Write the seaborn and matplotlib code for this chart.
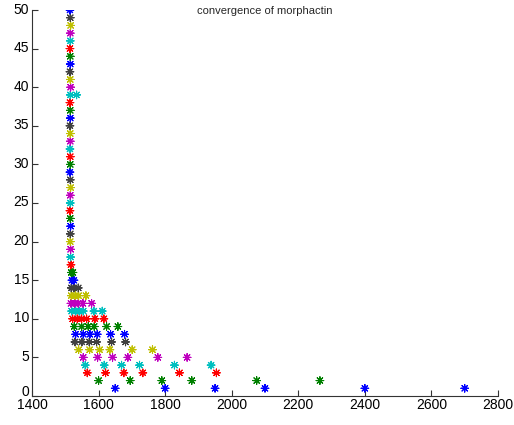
import matplotlib
matplotlib.use("Agg")
import matplotlib.pyplot as plt
import matplotlib.transforms as mtrans
import seaborn as sns
import pandas as pd

# iteration level (y) and the x values found at that level
levels = list(range(1, 51))
x_by_level = [
    [1650, 1800, 1950, 2100, 2400, 2700],   # 1
    [1600, 1695, 1790, 1880, 2075, 2265],   # 2
    [1566, 1621, 1676, 1733, 1843, 1954],   # 3
    [1560, 1617, 1669, 1723, 1828, 1938],   # 4
    [1554, 1597, 1642, 1688, 1778, 1866],   # 5
    [1540, 1573, 1603, 1634, 1701, 1762],   # 6
    [1529, 1550, 1572, 1594, 1639, 1681],   # 7
    [1531, 1554, 1574, 1596, 1636, 1678],   # 8
    [1527, 1549, 1569, 1587, 1624, 1658],   # 9
    [1522, 1536, 1549, 1564, 1589, 1616],   # 10
    [1519, 1531, 1542, 1554, 1586, 1611],   # 11
    [1517, 1528, 1539, 1553, 1579],         # 12
    [1518, 1530, 1540, 1562],               # 13
    [1518, 1526, 1539],                     # 14
    [1520, 1526],                           # 15
    [1518, 1523],                           # 16
    [1517],                                 # 17
    [1516], [1516], [1515], [1515], [1516], [1515], [1514],   # 18-24
    [1515], [1515], [1516], [1515], [1514], [1515], [1515],   # 25-31
    [1514], [1515], [1515], [1514], [1515], [1515], [1514],   # 32-38
    [1515, 1534],                                             # 39
    [1516], [1515], [1514], [1515], [1515], [1514], [1515],   # 40-46
    [1515], [1516], [1515], [1514],                           # 47-50
]
matlab_colors = [(0, 0, 1), (0, 0.5, 0), (1, 0, 0), (0, 0.75, 0.75),
                 (0.75, 0, 0.75), (0.75, 0.75, 0), (0.25, 0.25, 0.25)]
x_ticks = [1400, 1600, 1800, 2000, 2200, 2400, 2600, 2800]
y_ticks = [0, 5, 10, 15, 20, 25, 30, 35, 40, 45, 50]
title = "convergence of morphactin"

rows = []
for lv, xs in zip(levels, x_by_level):
    for xv in xs:
        rows.append({"x": xv, "y": lv, "c": (lv - 1) % 7})
df = pd.DataFrame(rows)

sns.set_style("ticks")
plt.rcParams["font.family"] = ["Liberation Sans", "DejaVu Sans"]

fig = plt.figure(figsize=(5.14, 4.25), dpi=100)
ax = fig.add_axes([32 / 514, 1 - 396 / 425, 466 / 514, 386 / 425])

sns.scatterplot(data=df, x="x", y="y", hue="c", palette=matlab_colors,
                marker=(8, 2, 0), s=30, linewidth=0.8, legend=False, ax=ax)

ax.set_xlim(1400, 2800)
ax.set_ylim(0, 50)
ax.set_xticks(x_ticks)
ax.set_yticks(y_ticks)
ax.set_xlabel("")
ax.set_ylabel("")
ax.tick_params(direction="in", length=4, width=0.8, labelsize=10,
               colors="#333333", labelcolor="black")
ax.tick_params(axis="x", pad=1.5)
ax.tick_params(axis="y", pad=2)
ylabels = ax.get_yticklabels()
for i, lab in enumerate(ylabels):
    dy = 5.5 if i == 0 else 2
    shift = mtrans.ScaledTranslation(0, dy / 100, fig.dpi_scale_trans)
    lab.set_transform(lab.get_transform() + shift)
for s in ["top", "right"]:
    ax.spines[s].set_visible(False)
for s in ["left", "bottom"]:
    ax.spines[s].set_color("#333333")
    ax.spines[s].set_linewidth(0.8)
ax.set_title(title, fontsize=8, y=1.0, pad=-1, va="center")

fig.savefig("out.png", dpi=100, facecolor="white")
